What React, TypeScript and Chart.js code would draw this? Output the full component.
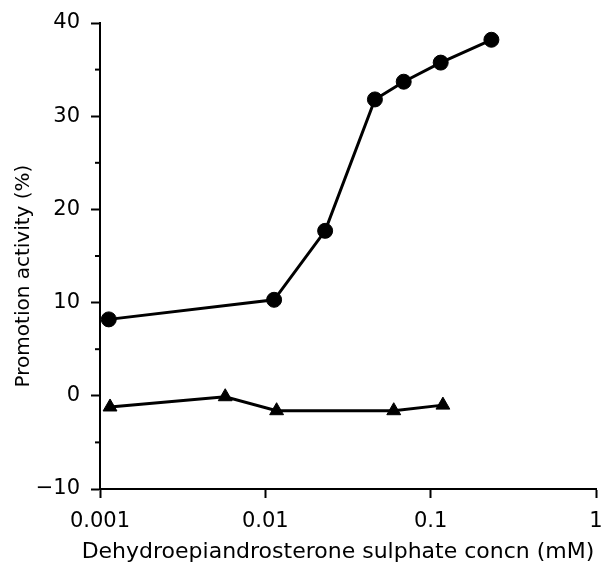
import React, { useEffect, useRef } from "react";
import { Chart, registerables } from "chart.js";

Chart.register(...registerables);

// Filled circles series
const circleConc = [0.00113, 0.0113, 0.023, 0.046, 0.0687, 0.115, 0.233];
const circleActivity = [8.2, 10.3, 17.7, 31.8, 33.7, 35.75, 38.2];

// Filled triangles series
const triangleConc = [0.00115, 0.00572, 0.0117, 0.0598, 0.1186];
const triangleActivity = [-1.2, -0.1, -1.6, -1.6, -1.0];

const xTickValues = [0.001, 0.01, 0.1, 1];
const xTickLabels = ["0.001", "0.01", "0.1", "1"];
const yMinorTicks = [-5, 5, 15, 25, 35];

const xTitle = "Dehydroepiandrosterone sulphate concn (mM)";
const yTitle = "Promotion activity (%)";

const FONT = "'DejaVu Sans', 'Liberation Sans', Arial, sans-serif";

const extrasPlugin = {
  id: "extras",
  afterDraw(chart: any) {
    const y = chart.scales.y;
    const x = chart.scales.x;
    const ctx = chart.ctx;
    ctx.save();
    // minor y ticks
    ctx.strokeStyle = "#000";
    ctx.lineWidth = 2;
    for (const v of yMinorTicks) {
      const py = y.getPixelForValue(v);
      ctx.beginPath();
      ctx.moveTo(y.right - 5, py);
      ctx.lineTo(y.right, py);
      ctx.stroke();
    }
    // axis titles
    ctx.fillStyle = "#000";
    ctx.textAlign = "center";
    ctx.textBaseline = "alphabetic";
    ctx.font = "22px " + FONT;
    ctx.fillText(xTitle, 338, x.bottom - 6);
    ctx.translate(29, 276);
    ctx.rotate(-Math.PI / 2);
    ctx.font = "20px " + FONT;
    ctx.fillText(yTitle, 0, 0);
    ctx.restore();
  },
};

export default function App() {
  const ref = useRef<HTMLCanvasElement | null>(null);

  useEffect(() => {
    if (!ref.current) return;
    const chart = new Chart(ref.current, {
      type: "line",
      data: {
        datasets: [
          {
            data: circleConc.map((x, i) => ({ x, y: circleActivity[i] })),
            borderColor: "#000",
            backgroundColor: "#000",
            borderWidth: 3,
            pointStyle: "circle",
            pointRadius: 7.5,
            pointBorderWidth: 1,
            pointBackgroundColor: "#000",
            pointBorderColor: "#000",
            tension: 0,
          },
          {
            data: triangleConc.map((x, i) => ({ x, y: triangleActivity[i] })),
            borderColor: "#000",
            backgroundColor: "#000",
            borderWidth: 3,
            pointStyle: "triangle",
            pointRadius: 8,
            pointBorderWidth: 1,
            pointBackgroundColor: "#000",
            pointBorderColor: "#000",
            tension: 0,
          },
        ],
      },
      options: {
        animation: false,
        responsive: false,
        layout: { padding: { top: 23, right: 5, left: 0, bottom: 0 } },
        plugins: {
          legend: { display: false },
          tooltip: { enabled: false },
        },
        scales: {
          x: {
            type: "logarithmic",
            position: "bottom",
            min: 0.001,
            max: 1,
            afterBuildTicks: (s: any) => {
              s.ticks = xTickValues.map((v) => ({ value: v }));
            },
            afterFit: (s: any) => {
              s.height = 75;
              s.paddingRight = 0;
              s.paddingLeft = 0;
            },
            ticks: {
              autoSkip: false,
              maxRotation: 0,
              padding: 11,
              color: "#000",
              font: { family: FONT, size: 21 },
              callback: (v: any) => {
                const i = xTickValues.findIndex((t) => Math.abs(t - v) < 1e-9);
                return i >= 0 ? xTickLabels[i] : "";
              },
            },
            grid: {
              drawOnChartArea: false,
              drawTicks: true,
              tickLength: 9,
              tickWidth: 2,
              tickColor: "#000",
            },
            border: { display: true, color: "#000", width: 2 },
            title: { display: false },
          },
          y: {
            type: "linear",
            position: "left",
            min: -10,
            max: 40,
            afterFit: (s: any) => {
              s.width = 100;
              s.paddingTop = 0;
              s.paddingBottom = 0;
            },
            ticks: {
              stepSize: 10,
              padding: 11,
              color: "#000",
              font: { family: FONT, size: 21 },
              callback: (v: any) => (v < 0 ? "\u2212" + Math.abs(v) : String(v)),
            },
            grid: {
              drawOnChartArea: false,
              drawTicks: true,
              tickLength: 9,
              tickWidth: 2,
              tickColor: "#000",
            },
            border: { display: true, color: "#000", width: 2 },
            title: { display: false },
          },
        },
      },
      plugins: [extrasPlugin],
    } as any);
    return () => chart.destroy();
  }, []);

  return (
    <canvas
      ref={ref}
      width={605}
      height={564}
      style={{ position: "absolute", left: 0, top: 0, display: "block" }}
    />
  );
}
